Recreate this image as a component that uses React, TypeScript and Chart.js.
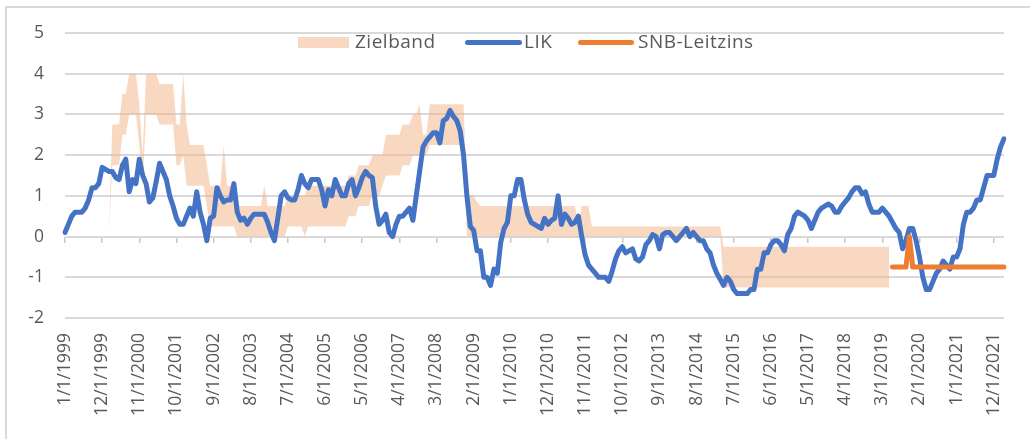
import React, { useEffect, useRef } from 'react';
import { Chart, registerables } from 'chart.js';

Chart.register(...registerables);

const n = null;

// Monthly categories: 1/1/1999 ... 3/1/2022
const START_YEAR = 1999;
const MONTH_COUNT = 279;
const CATEGORIES: string[] = Array.from(
  { length: MONTH_COUNT },
  (_, i) => `${(i % 12) + 1}/1/${START_YEAR + Math.floor(i / 12)}`
);
const TICK_EVERY = 11;
const Y_MIN = -2;
const Y_MAX = 5;

// Landesindex der Konsumentenpreise, Veränderung gegenüber Vorjahr (%)
const LIK: (number | null)[] = [
  0.1, 0.3, 0.5, 0.6, 0.6, 0.6, 0.7, 0.9, 1.2, 1.2, 1.3, 1.7, // 1999
  1.65, 1.6, 1.6, 1.45, 1.4, 1.75, 1.9, 1.1, 1.4, 1.3, 1.9, 1.5, // 2000
  1.3, 0.85, 0.95, 1.35, 1.8, 1.6, 1.4, 1.0, 0.75, 0.45, 0.3, 0.3, // 2001
  0.5, 0.7, 0.5, 1.1, 0.6, 0.3, -0.1, 0.45, 0.5, 1.2, 1.0, 0.85, // 2002
  0.9, 0.9, 1.3, 0.6, 0.4, 0.45, 0.3, 0.45, 0.55, 0.55, 0.55, 0.55, // 2003
  0.35, 0.1, -0.1, 0.45, 1.0, 1.1, 0.95, 0.9, 0.9, 1.15, 1.5, 1.3, // 2004
  1.2, 1.4, 1.4, 1.4, 1.15, 0.75, 1.15, 1.0, 1.4, 1.2, 1.0, 1.0, // 2005
  1.3, 1.4, 1.0, 1.2, 1.45, 1.6, 1.5, 1.45, 0.75, 0.3, 0.4, 0.55, // 2006
  0.1, 0.0, 0.3, 0.5, 0.5, 0.6, 0.7, 0.4, 1.0, 1.6, 2.2, 2.35, // 2007
  2.45, 2.55, 2.55, 2.3, 2.85, 2.9, 3.1, 2.95, 2.85, 2.6, 2.0, 1.0, // 2008
  0.25, 0.15, -0.35, -0.35, -1.0, -1.0, -1.2, -0.8, -0.9, -0.15, 0.2, 0.35, // 2009
  1.0, 1.0, 1.4, 1.4, 0.9, 0.55, 0.35, 0.3, 0.25, 0.2, 0.45, 0.3, // 2010
  0.4, 0.45, 1.0, 0.3, 0.55, 0.45, 0.3, 0.35, 0.5, 0.0, -0.45, -0.7, // 2011
  -0.8, -0.9, -1.0, -1.0, -1.0, -1.1, -0.85, -0.55, -0.35, -0.25, -0.4, -0.35, // 2012
  -0.3, -0.55, -0.6, -0.5, -0.2, -0.1, 0.05, 0.0, -0.3, 0.05, 0.1, 0.1, // 2013
  0.0, -0.1, 0.0, 0.1, 0.2, 0.0, 0.1, 0.0, -0.1, -0.1, -0.3, -0.4, // 2014
  -0.7, -0.9, -1.05, -1.2, -1.0, -1.1, -1.3, -1.4, -1.4, -1.4, -1.4, -1.3, // 2015
  -1.3, -0.8, -0.8, -0.4, -0.4, -0.2, -0.1, -0.1, -0.2, -0.35, 0.05, 0.2, // 2016
  0.5, 0.6, 0.55, 0.5, 0.4, 0.2, 0.4, 0.6, 0.7, 0.75, 0.8, 0.75, // 2017
  0.6, 0.6, 0.75, 0.85, 0.95, 1.1, 1.2, 1.2, 1.05, 1.1, 0.8, 0.6, // 2018
  0.6, 0.6, 0.7, 0.6, 0.5, 0.35, 0.2, 0.1, -0.3, -0.1, 0.2, 0.2, // 2019
  -0.1, -0.5, -1.0, -1.3, -1.3, -1.1, -0.9, -0.8, -0.6, -0.7, -0.8, -0.5, // 2020
  -0.5, -0.3, 0.3, 0.6, 0.6, 0.7, 0.9, 0.9, 1.2, 1.5, 1.5, 1.5, // 2021
  1.9, 2.2, 2.4, // 2022
];

// SNB-Leitzins (%)
const SNB: (number | null)[] = [
  n, n, n, n, n, n, n, n, n, n, n, n, // 1999
  n, n, n, n, n, n, n, n, n, n, n, n, // 2000
  n, n, n, n, n, n, n, n, n, n, n, n, // 2001
  n, n, n, n, n, n, n, n, n, n, n, n, // 2002
  n, n, n, n, n, n, n, n, n, n, n, n, // 2003
  n, n, n, n, n, n, n, n, n, n, n, n, // 2004
  n, n, n, n, n, n, n, n, n, n, n, n, // 2005
  n, n, n, n, n, n, n, n, n, n, n, n, // 2006
  n, n, n, n, n, n, n, n, n, n, n, n, // 2007
  n, n, n, n, n, n, n, n, n, n, n, n, // 2008
  n, n, n, n, n, n, n, n, n, n, n, n, // 2009
  n, n, n, n, n, n, n, n, n, n, n, n, // 2010
  n, n, n, n, n, n, n, n, n, n, n, n, // 2011
  n, n, n, n, n, n, n, n, n, n, n, n, // 2012
  n, n, n, n, n, n, n, n, n, n, n, n, // 2013
  n, n, n, n, n, n, n, n, n, n, n, n, // 2014
  n, n, n, n, n, n, n, n, n, n, n, n, // 2015
  n, n, n, n, n, n, n, n, n, n, n, n, // 2016
  n, n, n, n, n, n, n, n, n, n, n, n, // 2017
  n, n, n, n, n, n, n, n, n, n, n, n, // 2018
  n, n, n, n, n, -0.75, -0.75, -0.75, -0.75, -0.75, 0, -0.75, // 2019
  -0.75, -0.75, -0.75, -0.75, -0.75, -0.75, -0.75, -0.75, -0.75, -0.75, -0.75, -0.75, // 2020
  -0.75, -0.75, -0.75, -0.75, -0.75, -0.75, -0.75, -0.75, -0.75, -0.75, -0.75, -0.75, // 2021
  -0.75, -0.75, -0.75, // 2022
];

// Zielband (untere / obere Grenze, %)
const BAND_LOW: (number | null)[] = [
  n, n, n, n, n, n, n, n, n, n, n, n, // 1999
  n, 0, 1.75, 1.75, 1.75, 2.5, 2.5, 3, 3, 3, 2.25, 1.25, // 2000
  3, 3, 3, 3, 2.75, 2.75, 2.75, 2.75, 2.75, 1.75, 1.75, 2, // 2001
  1.25, 1.25, 1.25, 1.25, 1.25, 1.25, 0.75, 0.25, 0.25, 0.25, 0.25, 0.25, // 2002
  0.25, 0.25, 0.25, 0, 0, 0, 0, 0, 0, 0, 0, 0, // 2003
  0, 0, 0, 0, 0, 0, 0.25, 0.25, 0.25, 0.25, 0.25, 0, // 2004
  0.25, 0.25, 0.25, 0.25, 0.25, 0.25, 0.25, 0.25, 0.25, 0.25, 0.25, 0.25, // 2005
  0.5, 0.5, 0.5, 0.75, 0.75, 0.75, 0.75, 1, 1, 1, 1.25, 1.5, // 2006
  1.5, 1.5, 1.5, 1.5, 1.75, 1.75, 1.75, 2, 2, 2, 2, 2, // 2007
  2.25, 2.25, 2.25, 2.25, 2.25, 2.25, 2.25, 2.25, 2.25, 2.25, 2.25, 0, // 2008
  0, 0, 0, 0, 0, 0, 0, 0, 0, 0, 0, 0, // 2009
  0, 0, 0, 0, 0, 0, 0, 0, 0, 0, 0, 0, // 2010
  0, 0, 0, 0, 0, 0, 0, 0, 0, 0, 0, 0, // 2011
  0, 0, 0, 0, 0, 0, 0, 0, 0, 0, 0, 0, // 2012
  0, 0, 0, 0, 0, 0, 0, 0, 0, 0, 0, 0, // 2013
  0, 0, 0, 0, 0, 0, 0, 0, 0, 0, 0, 0, // 2014
  0, 0, 0, -1.25, -1.25, -1.25, -1.25, -1.25, -1.25, -1.25, -1.25, -1.25, // 2015
  -1.25, -1.25, -1.25, -1.25, -1.25, -1.25, -1.25, -1.25, -1.25, -1.25, -1.25, -1.25, // 2016
  -1.25, -1.25, -1.25, -1.25, -1.25, -1.25, -1.25, -1.25, -1.25, -1.25, -1.25, -1.25, // 2017
  -1.25, -1.25, -1.25, -1.25, -1.25, -1.25, -1.25, -1.25, -1.25, -1.25, -1.25, -1.25, // 2018
  -1.25, -1.25, -1.25, -1.25, -1.25, n, n, n, n, n, n, n, // 2019
  n, n, n, n, n, n, n, n, n, n, n, n, // 2020
  n, n, n, n, n, n, n, n, n, n, n, n, // 2021
  n, n, n, // 2022
];

const BAND_HIGH: (number | null)[] = [
  n, n, n, n, n, n, n, n, n, n, n, n, // 1999
  n, 0, 2.75, 2.75, 2.75, 3.5, 3.5, 4, 4, 4, 3.25, 2, // 2000
  4, 4, 4, 4, 3.75, 3.75, 3.75, 3.75, 3.75, 2.75, 2.75, 4, // 2001
  2.75, 2.25, 2.25, 2.25, 2.25, 2.25, 1.75, 1.25, 1.25, 1.25, 1.25, 2.25, // 2002
  1.25, 1.25, 1.25, 0.75, 0.75, 0.75, 0.75, 0.75, 0.75, 0.75, 0.75, 1.25, // 2003
  0.75, 0.75, 0.75, 0.75, 0.75, 0.75, 1, 1, 1, 1, 1, 1, // 2004
  1.25, 1.25, 1.25, 1.25, 1.25, 1.25, 1.25, 1.25, 1.25, 1.25, 1.25, 1.25, // 2005
  1.5, 1.5, 1.5, 1.75, 1.75, 1.75, 1.75, 2, 2, 2, 2, 2.5, // 2006
  2.5, 2.5, 2.5, 2.5, 2.75, 2.75, 2.75, 3, 3, 3.25, 2.5, 2.5, // 2007
  3.25, 3.25, 3.25, 3.25, 3.25, 3.25, 3.25, 3.25, 3.25, 3.25, 3.25, 1, // 2008
  1, 1, 0.85, 0.75, 0.75, 0.75, 0.75, 0.75, 0.75, 0.75, 0.75, 0.75, // 2009
  0.75, 0.75, 0.75, 0.75, 0.75, 0.75, 0.75, 0.75, 0.75, 0.75, 0.75, 0.75, // 2010
  0.75, 0.75, 0.75, 0.75, 0.75, 0.75, 0.75, 0.75, 0.25, 0.75, 0.75, 0.75, // 2011
  0.25, 0.25, 0.25, 0.25, 0.25, 0.25, 0.25, 0.25, 0.25, 0.25, 0.25, 0.25, // 2012
  0.25, 0.25, 0.25, 0.25, 0.25, 0.25, 0.25, 0.25, 0.25, 0.25, 0.25, 0.25, // 2013
  0.25, 0.25, 0.25, 0.25, 0.25, 0.25, 0.25, 0.25, 0.25, 0.25, 0.25, 0.25, // 2014
  0.25, 0.25, 0.25, -0.25, -0.25, -0.25, -0.25, -0.25, -0.25, -0.25, -0.25, -0.25, // 2015
  -0.25, -0.25, -0.25, -0.25, -0.25, -0.25, -0.25, -0.25, -0.25, -0.25, -0.25, -0.25, // 2016
  -0.25, -0.25, -0.25, -0.25, -0.25, -0.25, -0.25, -0.25, -0.25, -0.25, -0.25, -0.25, // 2017
  -0.25, -0.25, -0.25, -0.25, -0.25, -0.25, -0.25, -0.25, -0.25, -0.25, -0.25, -0.25, // 2018
  -0.25, -0.25, -0.25, -0.25, -0.25, n, n, n, n, n, n, n, // 2019
  n, n, n, n, n, n, n, n, n, n, n, n, // 2020
  n, n, n, n, n, n, n, n, n, n, n, n, // 2021
  n, n, n, // 2022
];

const FONT = "'Open Sans', 'Liberation Sans', sans-serif";
const TEXT_COLOR = '#595959';
const GRID_COLOR = '#d9d9d9';
const BLUE = '#4472C4';
const ORANGE = '#ED7D31';
const BAND_FILL = 'rgba(244, 177, 131, 0.5)';
const BAND_SWATCH = 'rgb(249, 216, 193)';

export default function App() {
  const canvasRef = useRef<HTMLCanvasElement | null>(null);

  useEffect(() => {
    document.body.style.margin = '0';
    const canvas = canvasRef.current;
    if (!canvas) return;
    const chart = new Chart(canvas, {
      type: 'line',
      data: {
        labels: CATEGORIES,
        datasets: [
          {
            label: 'SNB-Leitzins',
            data: SNB,
            borderColor: ORANGE,
            backgroundColor: ORANGE,
            borderWidth: 5,
            pointRadius: 0,
            tension: 0,
            fill: false,
            spanGaps: false,
            borderCapStyle: 'round',
            borderJoinStyle: 'round',
          },
          {
            label: 'LIK',
            data: LIK,
            borderColor: BLUE,
            backgroundColor: BLUE,
            borderWidth: 5,
            pointRadius: 0,
            tension: 0,
            fill: false,
            borderCapStyle: 'round',
            borderJoinStyle: 'round',
          },
          {
            label: 'Zielband unten',
            data: BAND_LOW,
            borderColor: 'rgba(0,0,0,0)',
            backgroundColor: 'rgba(0,0,0,0)',
            borderWidth: 0,
            pointRadius: 0,
            tension: 0,
            fill: false,
          },
          {
            label: 'Zielband',
            data: BAND_HIGH,
            borderColor: 'rgba(0,0,0,0)',
            backgroundColor: BAND_FILL,
            borderWidth: 0,
            pointRadius: 0,
            tension: 0,
            fill: '-1',
          },
        ],
      },
      options: {
        animation: false,
        responsive: false,
        events: [],
        layout: { padding: { top: 33, right: 20, left: 0, bottom: 0 } },
        plugins: {
          legend: { display: false },
          tooltip: { enabled: false },
        },
        scales: {
          x: {
            type: 'category',
            position: 'bottom',
            grid: { display: false, drawTicks: false },
            border: { display: false },
            ticks: {
              autoSkip: false,
              minRotation: 90,
              maxRotation: 90,
              padding: 15,
              color: TEXT_COLOR,
              font: { family: FONT, size: 17.5 },
              callback: (_v: any, i: number) => (i % TICK_EVERY === 0 ? CATEGORIES[i] : null),
            },
            afterFit: (s: any) => {
              s.height = 121;
            },
          },
          xt: {
            type: 'category',
            axis: 'x',
            position: { y: 0 },
            ticks: { display: false, autoSkip: false },
            grid: {
              drawOnChartArea: false,
              drawTicks: true,
              tickLength: 6,
              lineWidth: 1.5,
              color: (c: any) => (c.index % TICK_EVERY === 0 ? '#c8c8c8' : 'rgba(0,0,0,0)'),
            },
            border: { display: false },
          },
          y: {
            min: Y_MIN,
            max: Y_MAX,
            ticks: {
              stepSize: 1,
              padding: 21,
              color: TEXT_COLOR,
              font: { family: FONT, size: 17.5 },
            },
            grid: { color: GRID_COLOR, lineWidth: 2, drawTicks: false },
            border: { display: false },
            afterFit: (s: any) => {
              s.width = 65;
            },
          },
        },
      } as any,
    });
    return () => chart.destroy();
  }, []);

  const textStyle: React.CSSProperties = {
    position: 'absolute',
    top: 28,
    lineHeight: '26px',
    height: 26,
    fontFamily: FONT,
    fontSize: 19,
    letterSpacing: '0.5px',
    color: TEXT_COLOR,
    whiteSpace: 'nowrap',
  };

  return (
    <div style={{ position: 'fixed', left: 0, top: 0, width: 1030, height: 439, background: '#ffffff', overflow: 'hidden' }}>
      <div
        style={{
          position: 'absolute',
          left: 5,
          top: 6,
          width: 1100,
          height: 500,
          borderLeft: '2px solid #d9d9d9',
          borderTop: '2px solid #d9d9d9',
        }}
      />
      <canvas ref={canvasRef} width={1030} height={439} style={{ position: 'absolute', left: 0, top: 0, width: 1030, height: 439 }} />
      <div style={{ position: 'absolute', left: 298, top: 37, width: 51, height: 11, background: BAND_SWATCH }} />
      <div style={{ ...textStyle, left: 355 }}>Zielband</div>
      <div style={{ position: 'absolute', left: 465, top: 40, width: 57, height: 5, borderRadius: 3, background: BLUE }} />
      <div style={{ ...textStyle, left: 524 }}>LIK</div>
      <div style={{ position: 'absolute', left: 578, top: 40, width: 56, height: 5, borderRadius: 3, background: ORANGE }} />
      <div style={{ ...textStyle, left: 638 }}>SNB-Leitzins</div>
    </div>
  );
}
